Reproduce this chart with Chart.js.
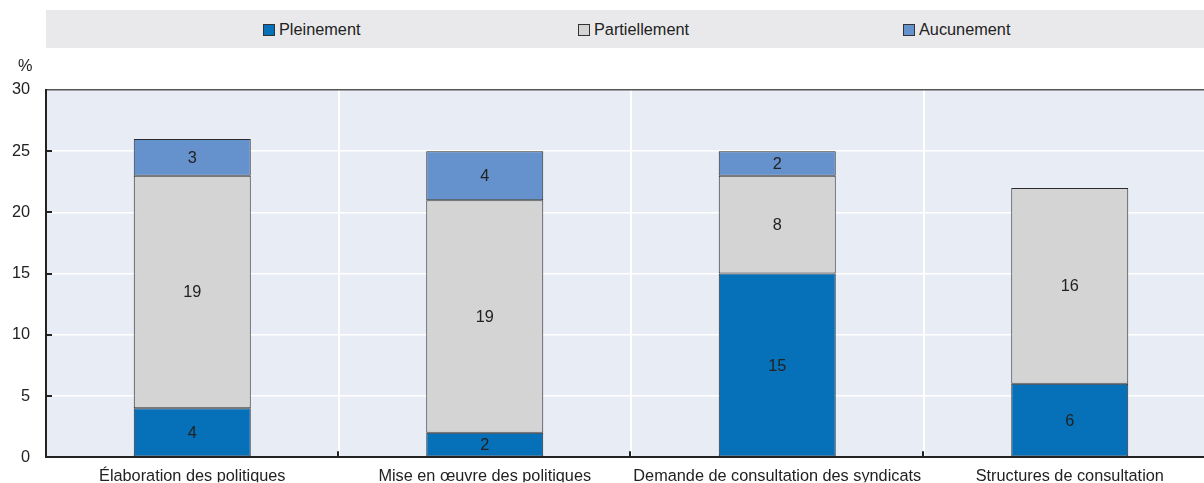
<!DOCTYPE html>
<html>
<head>
<meta charset="utf-8">
<script src="https://cdn.jsdelivr.net/npm/chart.js@4/dist/chart.umd.min.js"></script>
<style>
  html, body { margin: 0; padding: 0; background: #fff; overflow: hidden; }
  body { width: 1204px; height: 483px; position: relative;
         font-family: "Liberation Sans", Arial, sans-serif; color: #222; }
  #legend { position: absolute; left: 46px; top: 10px; width: 1158px; height: 38px; background: #e9e9eb; }
  .item { position: absolute; top: 0; height: 38px; line-height: 38px; font-size: 16.3px; }
  .item i { display: inline-block; width: 10px; height: 10px; border: 1px solid #333;
            vertical-align: middle; margin-right: 4px; position: relative; top: -1px; }
  #unit { position: absolute; left: 18px; top: 56px; font-size: 16.3px; }
  #wrap { position: absolute; left: 0; top: 0; width: 1216px; height: 483px; }
</style>
</head>
<body>
<div id="wrap"><canvas id="myChart" width="1216" height="483"></canvas></div>
<div id="legend"></div>
<div id="unit">%</div>
<script>
const categories = [
  'Élaboration des politiques',
  'Mise en œuvre des politiques',
  'Demande de consultation des syndicats',
  'Structures de consultation'
];
const pleinement = [4, 2, 15, 6];
const partiellement = [19, 19, 8, 16];
const aucunement = [3, 4, 2, 0];
const yTicks = [0, 5, 10, 15, 20, 25, 30];

const seriesNames = ['Pleinement', 'Partiellement', 'Aucunement'];
const seriesColors = ['#0670b8', '#d4d4d5', '#6592cc'];
const legendLeft = [217, 532, 857]; // offsets inside the legend box

// legend row
const legendBox = document.getElementById('legend');
seriesNames.forEach((name, i) => {
  let el = document.createElement('div');
  el.className = 'item';
  el.style.left = legendLeft[i] + 'px';
  el.innerHTML = '<i style="background:' + seriesColors[i] + '"></i>' + name;
  legendBox.appendChild(el);
});

const FONT = { family: '"Liberation Sans", Arial, sans-serif', size: 16.3 };

// plot background, inward ticks and segment values
const decorations = {
  id: 'decorations',
  beforeDraw(chart) {
    const a = chart.chartArea, ctx = chart.ctx;
    ctx.save();
    ctx.fillStyle = '#e8ecf5';
    ctx.fillRect(a.left, a.top, a.right - a.left, a.bottom - a.top);
    ctx.restore();
  },
  afterDraw(chart) {
    const a = chart.chartArea, ctx = chart.ctx;
    const x = chart.scales.x, y = chart.scales.y;
    ctx.save();
    ctx.strokeStyle = '#222';
    ctx.lineWidth = 2;
    yTicks.forEach(v => {
      if (v === 0 || v === 30) return;
      let py = Math.round(y.getPixelForValue(v));
      ctx.beginPath();
      ctx.moveTo(a.left, py);
      ctx.lineTo(a.left + 6, py);
      ctx.stroke();
    });
    for (let i = 1; i < categories.length; i++) {
      let px = Math.round((x.getPixelForValue(i - 1) + x.getPixelForValue(i)) / 2) - 1;
      ctx.beginPath();
      ctx.moveTo(px, a.bottom);
      ctx.lineTo(px, a.bottom - 6);
      ctx.stroke();
    }
    ctx.fillStyle = '#222';
    ctx.font = FONT.size + 'px ' + FONT.family;
    ctx.textAlign = 'center';
    ctx.textBaseline = 'middle';
    chart.data.datasets.forEach((ds, di) => {
      chart.getDatasetMeta(di).data.forEach((bar, i) => {
        if (!ds.data[i]) return;
        ctx.fillText(ds.data[i], bar.x, (bar.y + bar.base) / 2 + 1);
      });
    });
    ctx.restore();
  }
};

new Chart(document.getElementById('myChart'), {
  type: 'bar',
  data: {
    labels: categories,
    datasets: [pleinement, partiellement, aucunement].map((d, i) => ({
      label: seriesNames[i],
      data: d,
      backgroundColor: seriesColors[i],
      borderColor: '#2b2b2b',
      borderWidth: 1,
      borderSkipped: false,
      barPercentage: 0.4,
      categoryPercentage: 1
    }))
  },
  options: {
    responsive: false,
    animation: false,
    layout: { padding: { top: 90, right: 0, left: 0, bottom: 0 } },
    plugins: { legend: { display: false }, tooltip: { enabled: false } },
    scales: {
      x: {
        stacked: true,
        grid: { color: '#ffffff', lineWidth: 2, drawTicks: false, offset: true },
        border: { color: '#222', width: 2 },
        ticks: { color: '#222', font: FONT, padding: 10, maxRotation: 0, autoSkip: false },
        afterFit(scale) { scale.height = 25; }
      },
      y: {
        stacked: true,
        min: 0,
        max: 30,
        afterBuildTicks(scale) { scale.ticks = yTicks.map(v => ({ value: v })); },
        grid: {
          drawTicks: false,
          lineWidth: 1.5,
          color: ctx => ctx.tick && ctx.tick.value === 30 ? '#555' : '#ffffff'
        },
        border: { color: '#222', width: 2 },
        ticks: { color: '#222', font: FONT, padding: 16 },
        afterFit(scale) { scale.width = 46; }
      }
    }
  },
  plugins: [decorations]
});
</script>
</body>
</html>
